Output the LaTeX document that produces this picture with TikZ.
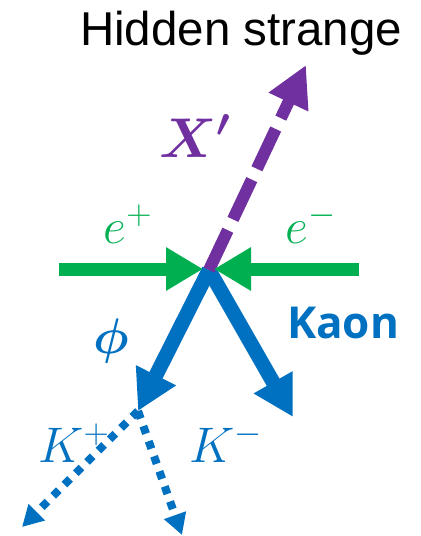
\documentclass[tikz,border=0pt]{standalone}
\usepackage{fix-cm}
\usepackage{amsmath}
\usepackage{bm}
\usepackage{fontspec}
\usepackage{tikz}
\usetikzlibrary{arrows.meta}
\newfontfamily\titlefont{Liberation Sans}
\newfontfamily\kaonfont{Open Sans}
\definecolor{beamgreen}{HTML}{00B050}
\definecolor{darkpurple}{HTML}{7030A0}
\definecolor{kaonblue}{HTML}{0070C0}

\begin{document}
\begin{tikzpicture}[x=0.75pt, y=-0.75pt,
  beam/.style={beamgreen, line width=9.75pt, -{Triangle[length=27.75pt, width=30.75pt]}},
  darkline/.style={darkpurple, line width=9pt, dash pattern=on 33pt off 9pt, -{Triangle[length=30.75pt, width=30.75pt]}},
  decay/.style={kaonblue, line width=11pt, -{Triangle[length=30pt, width=31.5pt]}},
  kdot/.style={kaonblue, line width=6pt, dash pattern=on 6pt off 6pt, -{Triangle[length=15.75pt, width=16.5pt]}},
  mlab/.style={inner sep=0pt, anchor=base, font=\fontsize{37.5}{40}\selectfont}
]
  \useasboundingbox (0,0) rectangle (421,536);

  % vertex and end points
  \coordinate (ip) at (209,270);
  \coordinate (ebeamL) at (59,269);
  \coordinate (ebeamR) at (359,269);
  \coordinate (ipL) at (203,269);
  \coordinate (ipR) at (214,269);
  \coordinate (xtip) at (306,65);
  \coordinate (phitip) at (138,411);
  \coordinate (kaontip) at (293,417);
  \coordinate (kptip) at (22,527);
  \coordinate (kmtip) at (182,535);

  % labels
  \node[anchor=base, inner sep=0pt, font=\titlefont\fontsize{35.6}{40}\selectfont] (title) at (241,45) {Hidden strange};
  \node[mlab, darkpurple, font=\fontsize{42}{46}\selectfont] (xlab) at (195,157) {$\bm{X'}$};
  \node[mlab, beamgreen] (eplab) at (128,243) {$e^+$};
  \node[mlab, beamgreen] (emlab) at (311,243) {$e^-$};
  \node[mlab, kaonblue] (philab) at (111,353) {$\bm{\phi}$};
  \node[anchor=base, inner sep=0pt, kaonblue, font=\kaonfont\bfseries\fontsize{33}{36}\selectfont] (kaonlab) at (343,338) {Kaon};
  \node[mlab, kaonblue] (kplab) at (74,462) {$K^+$};
  \node[mlab, kaonblue] (kmlab) at (226,462) {$K^-$};

  \draw[kdot] (phitip) -- (kptip);
  \draw[kdot] (phitip) -- (kmtip);
  \draw[decay] (ip) -- (phitip);
  \draw[decay] (ip) -- (kaontip);
  \draw[darkline] (ip) -- (xtip);
  \draw[beam] (ebeamL) -- (ipL);
  \draw[beam] (ebeamR) -- (ipR);
\end{tikzpicture}
\end{document}
